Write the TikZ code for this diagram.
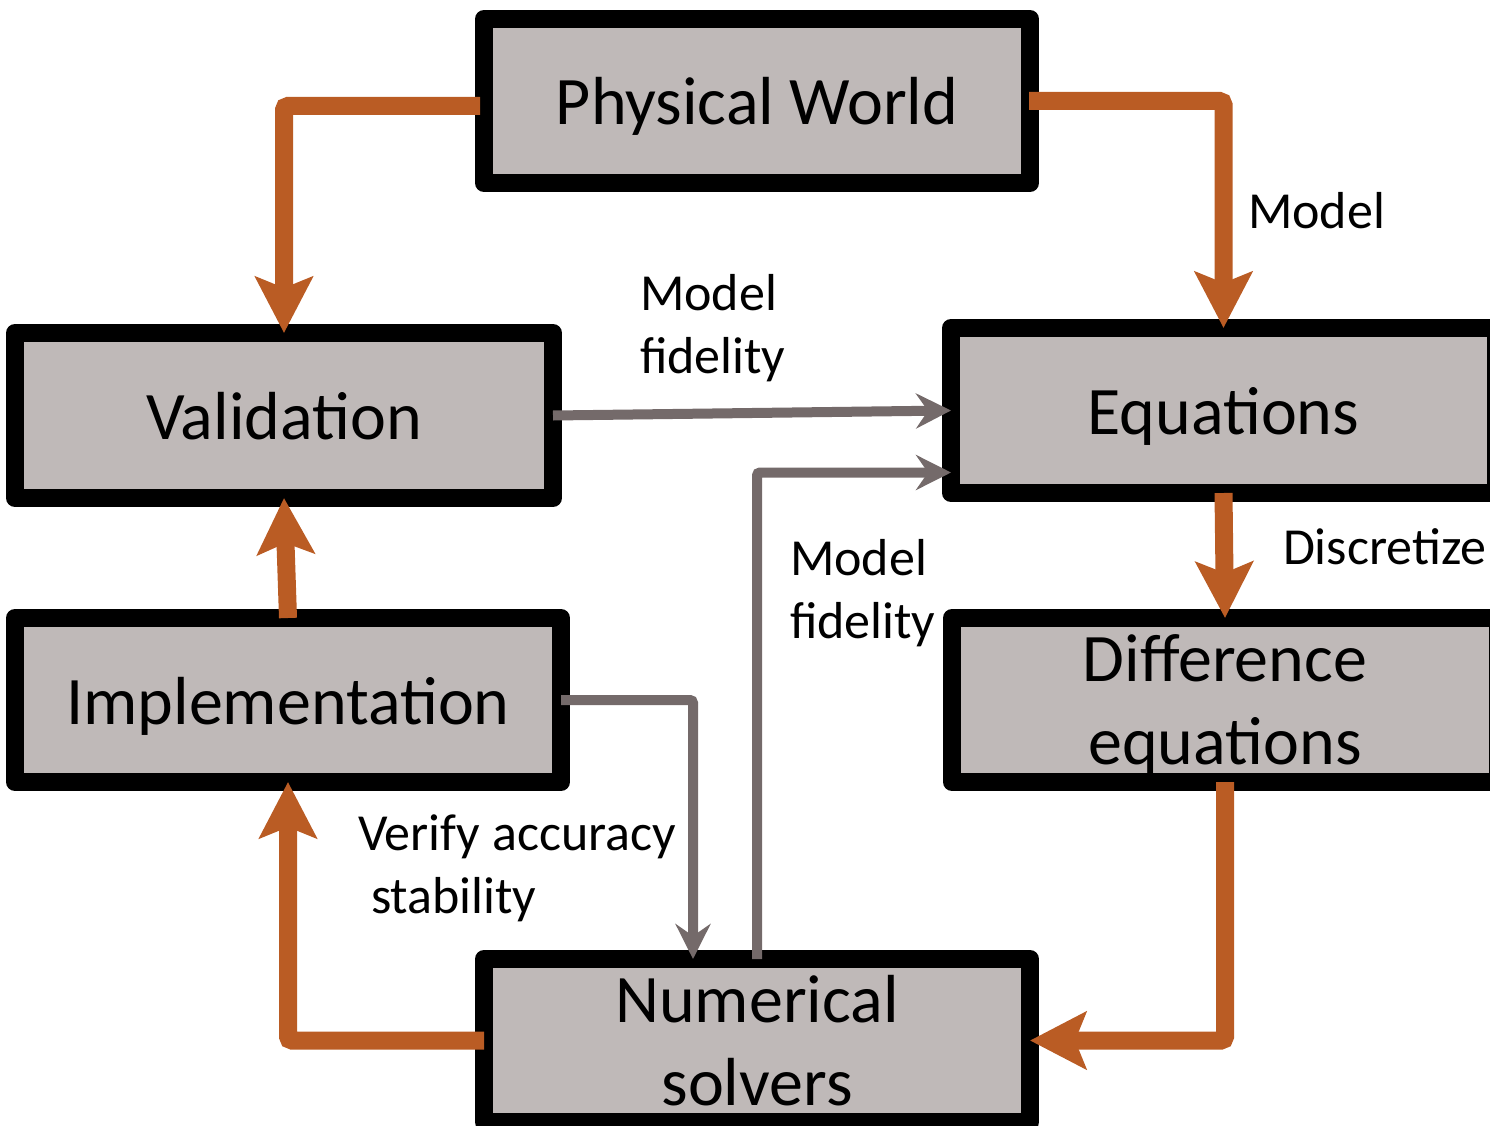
\documentclass[tikz,border=0pt]{standalone}
\usepackage{fontspec}
\setmainfont{Carlito}
\usetikzlibrary{arrows.meta}
\definecolor{boxfill}{RGB}{191,185,184}
\definecolor{orng}{RGB}{186,92,36}
\definecolor{gline}{RGB}{116,106,106}
\tikzset{
  box/.style={draw=black, line width=18pt, fill=boxfill, line join=round,
    outer sep=0pt, inner sep=0pt, font=\fontsize{68}{83}\selectfont, align=center, text=black},
  oneline/.style={text height=48pt, text depth=0pt},
  twoline/.style={text height=129pt, text depth=0pt},
  oarr/.style={draw=orng, line width=18pt, rounded corners=4pt,
    -{Stealth[length=56pt,width=57pt,inset=11pt]}},
  gconn/.style={draw=gline, line width=10pt, rounded corners=3pt,
    -{Stealth[length=35pt,width=35pt,inset=12pt]}},
  lbl/.style={font=\fontsize{52}{63}\selectfont, inner sep=0pt, outer sep=0pt, align=left, text=black}
}
\begin{document}
\begin{tikzpicture}[x=1pt,y=-1pt]
\useasboundingbox (0,0) rectangle (1490,1126);
% boxes
\node[box, oneline, minimum width=546pt, minimum height=164pt] (pw) at (757,101) {Physical World};
\node[box, oneline, minimum width=538pt, minimum height=165pt] (val) at (284,415.5) {Validation};
\node[box, oneline, minimum width=545pt, minimum height=165pt] (eq) at (1223.5,410.5) {Equations};
\node[box, twoline, minimum width=546pt, minimum height=164pt] (diff) at (1225,700) {Difference\\equations};
\node[box, oneline, minimum width=546pt, minimum height=164pt] (impl) at (288,700) {Implementation};
\node[box, twoline, minimum width=546pt, minimum height=163pt] (num) at (757,1040.5) {Numerical\\solvers};
% orange connectors
\draw[oarr] ([yshift=-5pt,xshift=-4pt]pw.west) -| (val.north);
\draw[oarr] ([xshift=-1pt]pw.east) -| (eq.north);
\draw[oarr] (eq.south) -- (diff.north);
\draw[oarr] (diff.south) |- (num.east);
\draw[oarr] (num.west) -| (impl.south);
\draw[oarr] (impl.north) -- (val.south);
% gray connectors
\draw[gconn] (val.east) -- (eq.west);
\draw[gconn] (num.north) |- ([yshift=-62pt]eq.west);
\draw[gconn] (impl.east) -| ([xshift=-64pt]num.north);
% labels (base anchor = baseline of last line)
\node[lbl, anchor=base west] (lmodel) at (1248,228) {Model};
\node[lbl, anchor=base west] (lfid1) at (640,373) {Model\\fidelity};
\node[lbl, anchor=base west] (ldisc) at (1283,564) {Discretize};
\node[lbl, anchor=base west] (lfid2) at (790,638) {Model\\fidelity};
\node[lbl, anchor=base west] (lver) at (358,913.5) {Verify accuracy\\\hspace*{13pt}stability};
\end{tikzpicture}
\end{document}
